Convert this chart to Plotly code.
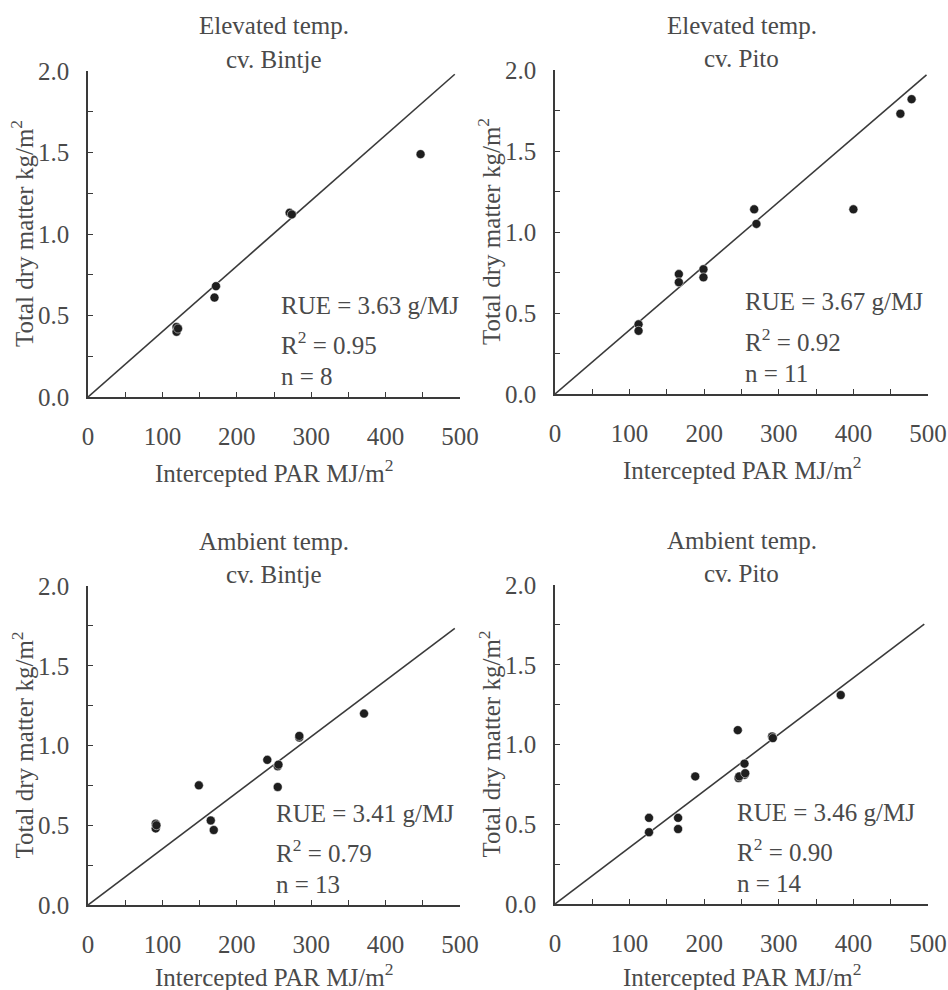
import plotly.graph_objects as go

# ---------------- data ----------------
eb_x = [119, 119, 170, 172, 271, 274, 447, 121]
eb_y = [0.43, 0.40, 0.61, 0.68, 1.13, 1.12, 1.49, 0.42]
eb_line_x = [0, 493]
eb_line_y = [0, 1.98]

ep_x = [112, 112, 166, 166, 199, 199, 267, 270, 400, 463, 478]
ep_y = [0.43, 0.39, 0.74, 0.69, 0.77, 0.72, 1.14, 1.05, 1.14, 1.73, 1.82]
ep_line_x = [0, 498]
ep_line_y = [0, 1.97]

ab_x = [91, 91, 149, 165, 169, 241, 255, 255, 284, 371, 92, 256, 284]
ab_y = [0.51, 0.48, 0.75, 0.53, 0.47, 0.91, 0.87, 0.74, 1.05, 1.20, 0.50, 0.88, 1.06]
ab_line_x = [0, 493]
ab_line_y = [0, 1.735]

ap_x = [126, 126, 165, 165, 188, 246, 245, 254, 254, 291, 383, 247, 255, 292]
ap_y = [0.54, 0.45, 0.54, 0.47, 0.80, 0.79, 1.09, 0.88, 0.81, 1.05, 1.31, 0.80, 0.82, 1.04]
ap_line_x = [0, 495]
ap_line_y = [0, 1.755]

titles_top = ["Elevated temp.", "Elevated temp.", "Ambient temp.", "Ambient temp."]
titles_cv = ["cv. Bintje", "cv. Pito", "cv. Bintje", "cv. Pito"]
rue_text = ["RUE = 3.63 g/MJ", "RUE = 3.67 g/MJ", "RUE = 3.41 g/MJ", "RUE = 3.46 g/MJ"]
r2_text = ["R<sup>2</sup> = 0.95", "R<sup>2</sup> = 0.92", "R<sup>2</sup> = 0.79", "R<sup>2</sup> = 0.90"]
n_text = ["n = 8", "n = 11", "n = 13", "n = 14"]
x_title = "Intercepted PAR MJ/m<sup>2</sup>"
y_title = "Total dry matter kg/m<sup>2</sup>"

x_ticks = [0, 100, 200, 300, 400, 500]
y_ticks = [0.0, 0.5, 1.0, 1.5, 2.0]

# ---------------- layout geometry ----------------
W, H = 948, 990
panels = [
    dict(x=eb_x, y=eb_y, lx=eb_line_x, ly=eb_line_y, px=(88, 460), py=(71, 397), tx=279),
    dict(x=ep_x, y=ep_y, lx=ep_line_x, ly=ep_line_y, px=(555, 928), py=(70, 394), tx=743),
    dict(x=ab_x, y=ab_y, lx=ab_line_x, ly=ab_line_y, px=(88, 460), py=(586, 905), tx=274),
    dict(x=ap_x, y=ap_y, lx=ap_line_x, ly=ap_line_y, px=(555, 928), py=(585, 904), tx=735),
]


def fx(v):
    return v / W


def fy(v):
    return 1 - v / H


FONT = "Liberation Serif, Times New Roman, serif"
TXT = "#4a4a4a"
LINE = "#3a3a3a"
FS = 25

fig = go.Figure()
annotations = []

for i, p in enumerate(panels):
    k = "" if i == 0 else str(i + 1)
    xa, ya = "x" + k, "y" + k
    fig.add_trace(go.Scatter(x=p["lx"], y=p["ly"], mode="lines", xaxis=xa, yaxis=ya,
                             line=dict(color=LINE, width=1.6), showlegend=False, hoverinfo="skip"))
    fig.add_trace(go.Scatter(x=p["x"], y=p["y"], mode="markers", xaxis=xa, yaxis=ya,
                             marker=dict(size=9, color="#1e1e1e", line=dict(color="white", width=0.5)),
                             showlegend=False, cliponaxis=False))
    x0, x1 = p["px"]
    y0, y1 = p["py"]
    common = dict(showline=True, linecolor=LINE, linewidth=1.6, ticks="inside", ticklen=5,
                  tickwidth=1.4, tickcolor=LINE, showgrid=False, zeroline=False, automargin=False,
                  tickfont=dict(family=FONT, size=FS, color=TXT), fixedrange=True)
    fig.layout["xaxis" + k] = dict(
        domain=[fx(x0), fx(x1)], range=[0, 500], anchor=ya, tickvals=x_ticks,
        minor=dict(dtick=50, tick0=0, ticks="inside", ticklen=5, tickwidth=1.4, tickcolor=LINE),
        ticklabelstandoff=16, **common)
    fig.layout["yaxis" + k] = dict(
        domain=[fy(y1), fy(y0)], range=[0, 2], anchor=xa, tickvals=y_ticks,
        tickformat=".1f",
        minor=dict(dtick=0.25, tick0=0, ticks="inside", ticklen=5, tickwidth=1.4, tickcolor=LINE),
        ticklabelstandoff=12, **common)

    cx = fx((x0 + x1) / 2)
    tf = dict(family=FONT, size=FS, color=TXT)
    annotations += [
        dict(x=cx, y=fy(y0 - 45), xref="paper", yref="paper", text=titles_top[i],
             showarrow=False, font=tf, xanchor="center", yanchor="middle"),
        dict(x=cx, y=fy(y0 - 12), xref="paper", yref="paper", text=titles_cv[i],
             showarrow=False, font=tf, xanchor="center", yanchor="middle"),
        dict(x=cx, y=fy(min(y1 + 74, H - 15)), xref="paper", yref="paper", text=x_title,
             showarrow=False, font=tf, xanchor="center", yanchor="middle"),
        dict(x=fx(x0 - 66), y=fy((y0 + y1) / 2), xref="paper", yref="paper", text=y_title,
             showarrow=False, font=tf, xanchor="center", yanchor="middle", textangle=-90),
    ]
    for j, (t, dy) in enumerate(zip([rue_text[i], r2_text[i], n_text[i]], [92, 54, 21])):
        annotations.append(dict(x=fx(p["tx"]), y=fy(y1 - dy), xref="paper", yref="paper",
                                text=t, showarrow=False, font=tf, xanchor="left", yanchor="middle"))

fig.update_layout(width=W, height=H, margin=dict(l=0, r=0, t=0, b=0, autoexpand=False),
                  paper_bgcolor="white", plot_bgcolor="white",
                  annotations=annotations, showlegend=False)

# remove the page's default 8px body margin so the 948x990 figure fills the window exactly
fig.write_html("out.html", config={"displayModeBar": False},
               post_script="document.body.style.margin='0';document.body.style.overflow='hidden';")
